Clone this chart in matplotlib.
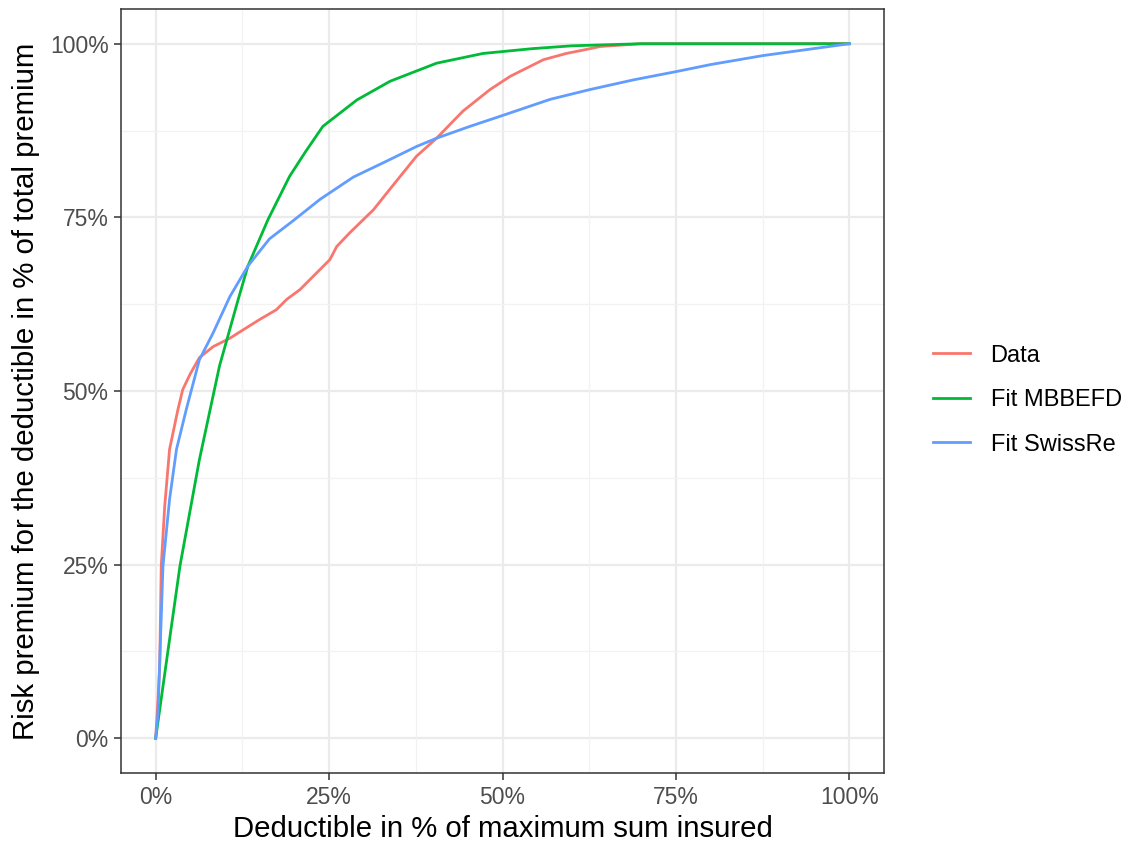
import matplotlib
matplotlib.use("Agg")
import matplotlib.pyplot as plt
from matplotlib.ticker import FixedLocator, FuncFormatter

plt.rcParams['font.family'] = ['Liberation Sans', 'DejaVu Sans']

# Empirical exposure curve (deductible share vs. premium share, in %)
data_x = [0, 0.3, 0.58, 0.8, 1.3, 2.0, 3.2, 3.9, 5.0, 6.3, 8.3, 10.7, 12.6, 15, 17.4,
          18.9, 20.8, 25.1, 26.1, 28, 31.4, 33.8, 37.6, 40.5, 44.3, 48.2, 51.1, 55.9,
          59.2, 61.7, 64.1, 70, 80, 90, 100]
data_y = [0, 5, 10.4, 24.8, 33.4, 41.6, 47.3, 50.2, 52.5, 54.8, 56.4, 57.6, 58.8, 60.3,
          61.7, 63.2, 64.6, 68.9, 70.8, 72.8, 76.1, 79.1, 83.8, 86.4, 90.3, 93.4, 95.3,
          97.7, 98.6, 99.1, 99.6, 100, 100, 100, 100]

# MBBEFD fit
mbbefd_x = [0, 1.8, 3.5, 6.3, 9.2, 11.9, 13.3, 16.2, 19.3, 21.5, 24.1, 29, 33.8, 40.5,
            47.2, 54.4, 60, 70, 80, 100]
mbbefd_y = [0, 12.8, 24.8, 40.1, 53.6, 63.2, 68, 74.7, 80.9, 84.3, 88.1, 91.9, 94.6,
            97.2, 98.6, 99.3, 99.7, 100, 100, 100]

# Swiss Re curve fit
swissre_x = [0, 0.33, 1.05, 2, 3, 4.4, 6.3, 8.3, 10.7, 13.3, 16.4, 19.8, 23.7, 28.5,
             33.3, 37.6, 40.5, 45.3, 50.1, 56.9, 62.6, 68.9, 75.1, 80, 87.6, 100]
swissre_y = [0, 3.5, 24.8, 34.4, 41.6, 47.3, 54.5, 58.4, 63.6, 68, 71.9, 74.5, 77.6,
             80.8, 83.1, 85.2, 86.4, 88.1, 89.7, 92.0, 93.4, 94.8, 96.0, 97.0, 98.3, 100]

series_names = ["Data", "Fit MBBEFD", "Fit SwissRe"]
series_colors = ["#F8766D", "#00BA38", "#619CFF"]

major_ticks = [0, 25, 50, 75, 100]
minor_ticks = [12.5, 37.5, 62.5, 87.5]

fig = plt.figure(figsize=(11.28, 8.46), dpi=100)
ax = fig.add_axes([121 / 1128, 1 - 773 / 846, (884 - 121) / 1128, (773 - 9) / 846])

for xs, ys, name, col in zip([data_x, mbbefd_x, swissre_x],
                             [data_y, mbbefd_y, swissre_y],
                             series_names, series_colors):
    ax.plot(xs, ys, color=col, lw=2.0, label=name, solid_joinstyle='round', zorder=3)

ax.set_xlim(-5, 105)
ax.set_ylim(-5, 105)

# grid: ggplot theme_bw look
for v in major_ticks:
    ax.axvline(v, color="#EBEBEB", lw=1.6, zorder=0)
    ax.axhline(v, color="#EBEBEB", lw=1.6, zorder=0)
for v in minor_ticks:
    ax.axvline(v, color="#F2F2F2", lw=0.9, zorder=0)
    ax.axhline(v, color="#F2F2F2", lw=0.9, zorder=0)

pct = FuncFormatter(lambda v, p: f"{v:.0f}%")
ax.xaxis.set_major_locator(FixedLocator(major_ticks))
ax.yaxis.set_major_locator(FixedLocator(major_ticks))
ax.xaxis.set_major_formatter(pct)
ax.yaxis.set_major_formatter(pct)
ax.tick_params(axis='both', which='major', length=5, width=1.1, color="#333333",
               labelcolor="#4D4D4D", labelsize=16.5, pad=4)

for s in ax.spines.values():
    s.set_color("#333333")
    s.set_linewidth(1.1)

ax.set_xlabel("Deductible in % of maximum sum insured", fontsize=21.2, color="black", labelpad=5)
ax.set_ylabel("Risk premium for the deductible in % of total premium", fontsize=21.2,
              color="black", labelpad=7)

leg = fig.legend(loc='center left', bbox_to_anchor=(0.808, 0.527), frameon=False,
                 fontsize=17, handlelength=1.6, handletextpad=0.85, labelspacing=0.95)
for line in leg.get_lines():
    line.set_linewidth(2.0)

fig.savefig("out.png", dpi=100)
